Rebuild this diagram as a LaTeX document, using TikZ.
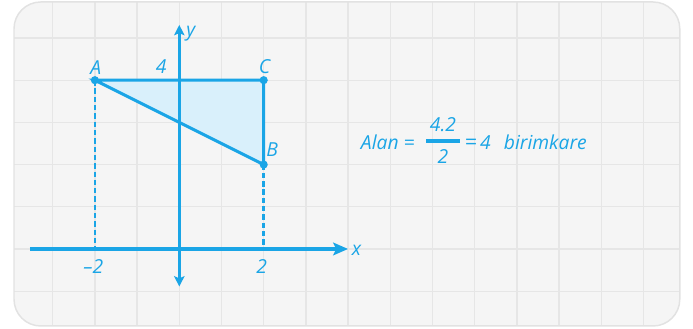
\documentclass[tikz,border=0pt]{standalone}
\usepackage{fontspec}
\setmainfont{Open Sans}
\usetikzlibrary{positioning,arrows.meta}
\definecolor{blu}{HTML}{1AA5E6}
\definecolor{lblu}{HTML}{D9F0FB}
\definecolor{pnl}{HTML}{F5F5F5}
\definecolor{pnlb}{HTML}{E2E2E2}
\definecolor{grd}{HTML}{E6E6E6}
\tikzset{
  every node/.append style={font=\fontsize{13}{15}\selectfont\itshape},
  lbl/.style={text=blu, inner sep=1pt},
  dot/.style={circle, fill=blu, inner sep=0pt, minimum size=5.5pt},
  axis/.style={line width=2.2pt, draw=blu},
  side/.style={line width=2pt, draw=blu},
  dsh/.style={line width=1.8pt, draw=blu, dash pattern=on 3.6pt off 2pt},
  gridln/.style={draw=grd, line width=0.9pt},
  fbar/.style={fill=blu, inner sep=0pt, minimum width=0.81cm, minimum height=2.6pt},
}

\begin{document}
\begin{tikzpicture}
  \useasboundingbox (-4.249,-1.896) rectangle (12.173,5.900);
  % panel and grid
  \fill[pnl, rounded corners=18pt] (-3.917,-1.825) rectangle (11.86,5.853);
  \begin{scope}
    \clip[rounded corners=18pt] (-3.917,-1.825) rectangle (11.86,5.853);
    \foreach \x in {-3,...,11}{
      \draw[gridln] (\x,-1.9) -- (\x,5.9);
    }
    \foreach \y in {-1,...,5}{
      \draw[gridln] (-4,\y) -- (12,\y);
    }
  \end{scope}
  \draw[pnlb, line width=1pt, rounded corners=18pt] (-3.917,-1.825) rectangle (11.86,5.853);

  \coordinate (O) at (0,0);
  \coordinate (A) at (-2,4);
  \coordinate (C) at (2,4);
  \coordinate (B) at (2,2);
  \fill[lblu] (A) -- (C) -- (B) -- cycle;

  % axes
  \coordinate (xl) at (-3.54,0);
  \coordinate (xr) at (4.0,0);
  \coordinate (yb) at (0,-0.89);
  \coordinate (yt) at (0,5.31);
  \draw[axis, -{Stealth[length=10pt, width=8.5pt, inset=2pt]}] (xl) -- (xr);
  \draw[axis, {Stealth[length=7pt, width=7pt, inset=1.5pt]}-{Stealth[length=7pt, width=7pt, inset=1.5pt]}] (yb) -- (yt);

  \draw[dsh] (A) -- (A |- O);
  \draw[dsh] (B) -- (B |- O);
  \draw[side] (A) -- (C) -- (B) -- cycle;

  \node[dot] (pA) at (A) {};
  \node[dot] (pC) at (C) {};
  \node[dot] (pB) at (B) {};
  \node[lbl] (lA) at (-1.98,4.3) {A};
  \node[lbl] (lC) at (2.02,4.33) {C};
  \node[lbl] (lB) at (2.2,2.36) {B};
  \node[lbl] (l4) at (-0.43,4.32) {4};
  \node[lbl] (lx) at (4.2,-0.03) {x};
  \node[lbl] (ly) at (0.27,5.1) {y};
  \node[lbl] (lm2) at (-2.04,-0.42) {--2};
  \node[lbl] (lp2) at (1.95,-0.42) {2};

  % area formula
  \node[lbl, anchor=east] (alan) at (5.62,2.54) {Alan =};
  \node[fbar] (bar) at (6.249,2.559) {};
  \node[lbl, above=3.2pt of bar] (num) {4.2};
  \node[lbl, below=3.2pt of bar] (den) {2};
  \node[lbl, anchor=west] (res) at (6.72,2.54) {{\Large=}\,4\ \ \,birimkare};
\end{tikzpicture}
\end{document}
